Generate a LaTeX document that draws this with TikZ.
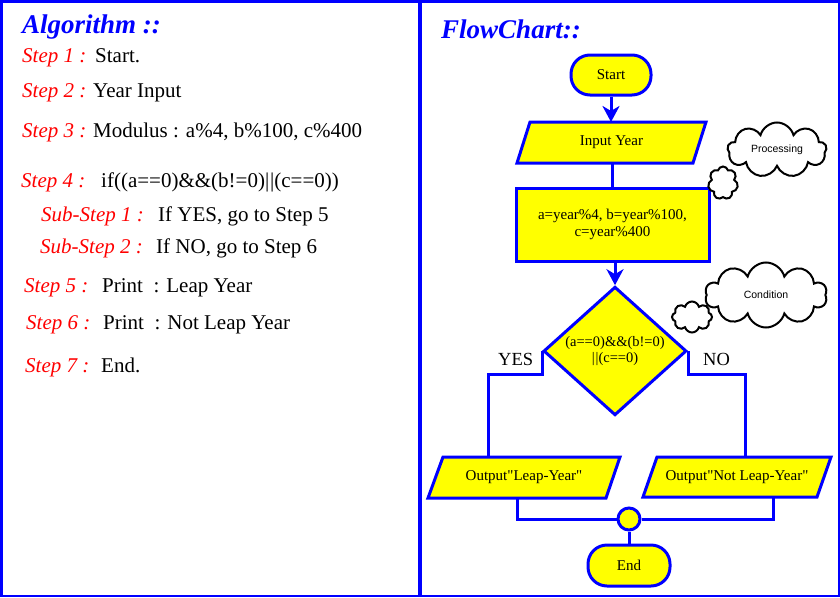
\documentclass[tikz,border=0pt]{standalone}
\usepackage{fontspec}
\setmainfont{Liberation Serif}[Ligatures=TeXOff]
\newfontfamily\cloudfont{Liberation Sans}
\usetikzlibrary{shapes.geometric,shapes.symbols,arrows.meta,calc}
\definecolor{fcblue}{RGB}{0,0,255}
\definecolor{fcyellow}{RGB}{255,255,0}
\tikzset{
 steplbl/.style={anchor=base west, text=red, font=\fontsize{21}{24}\selectfont\itshape, inner sep=0},
 steptxt/.style={anchor=base west, font=\fontsize{21}{24}\selectfont, inner sep=0},
 ttl/.style={anchor=base west, text=fcblue, font=\fontsize{27}{30}\selectfont\bfseries\itshape, inner sep=0},
 fcshape/.style={draw=fcblue, fill=fcyellow, line width=3pt, font=\fontsize{15}{17}\selectfont, align=center, inner sep=0},
 term/.style={fcshape, rectangle, rounded corners=19pt},
 ioshape/.style={draw=fcblue, fill=fcyellow, line width=3pt, line join=miter},
 iotext/.style={rectangle, font=\fontsize{15}{17}\selectfont, align=center, inner sep=0, outer sep=0},
 procbox/.style={fcshape, rectangle},
 decision/.style={fcshape, diamond, font=\fontsize{14.5}{16}\selectfont},
 conn/.style={draw=fcblue, line width=3pt},
 arr/.style={conn, -{Stealth[length=16pt,width=17pt,inset=5pt]}},
 thought/.style={cloud, cloud ignores aspect, draw=black, fill=white, line width=2pt, inner sep=0, font=\cloudfont\fontsize{10.5}{12}\selectfont},
 branch/.style={font=\fontsize{18.5}{20}\selectfont, inner sep=0, anchor=base west},
 frame/.style={draw=fcblue, line width=2.5pt},
}
\begin{document}
\begin{tikzpicture}[x=1pt,y=-1pt]
\useasboundingbox (0,0) rectangle (840,597);
\draw[frame] (1.25,1.25) rectangle (419,595.75);
\draw[frame] (420.5,1.25) rectangle (838.75,595.75);

% ---------- Algorithm ----------
\node[ttl] (alg) at (22,33) {Algorithm ::};
\node[steplbl] (s1) at (22,62) {Step 1 :};
\node[steptxt] (t1) at (95,62) {Start.};
\node[steplbl] (s2) at (22,97) {Step 2 :};
\node[steptxt] (t2) at (93,97) {Year Input};
\node[steplbl] (s3) at (22,137) {Step 3 :};
\node[steptxt] (t3) at (93,137) {Modulus : a\%4, b\%100, c\%400};
\node[steplbl] (s4) at (21,187) {Step 4 :};
\node[steptxt] (t4) at (101,187) {if((a==0)\&\&(b!=0)|\kern1pt|(c==0))};
\node[steplbl] (ss1) at (41,221) {Sub-Step 1 :};
\node[steptxt] (tt1) at (158,221) {If YES, go to Step 5};
\node[steplbl] (ss2) at (40,253) {Sub-Step 2 :};
\node[steptxt] (tt2) at (156,253) {If NO, go to Step 6};
\node[steplbl] (s5) at (24,292) {Step 5 :};
\node[steptxt] (t5) at (102,292) {Print\ \ : Leap Year};
\node[steplbl] (s6) at (26,329) {Step 6 :};
\node[steptxt] (t6) at (103,329) {Print\ \ : Not Leap Year};
\node[steplbl] (s7) at (25,372) {Step 7 :};
\node[steptxt] (t7) at (101,372) {End.};

% ---------- Flowchart ----------
\node[ttl] (fct) at (441,38) {FlowChart::};
\node[term, minimum width=80pt, minimum height=40pt] (st) at (611,75) {Start};

\path[ioshape] (517,163) -- (530,122) -- (706,122) -- (693,163) -- cycle;
\node[iotext, minimum width=189pt, minimum height=41pt] (inp) at (611.5,142.5) {Input Year};

\node[procbox, minimum width=193pt, minimum height=73pt] (proc) at (612.5,224.5) {a=year\%4, b=year\%100,\\c=year\%400};
\node[decision, minimum width=143pt, minimum height=124pt] (dec) at (615,351) {(a==0)\&\&(b!=0)\\|\kern1pt|(c==0)};

\path[ioshape] (428,498) -- (443,457) -- (620,457) -- (606,498) -- cycle;
\node[iotext, minimum width=192pt, minimum height=41pt] (o1) at (524,477.5) {Output"Leap-Year"};
\path[ioshape] (643,497) -- (657,457) -- (831,457) -- (817,497) -- cycle;
\node[iotext, minimum width=188pt, minimum height=40pt] (o2) at (737,477) {Output"Not Leap-Year"};

\node[circle, draw=fcblue, fill=fcyellow, line width=3pt, minimum size=22pt, inner sep=0] (jn) at (629,519) {};
\node[term, minimum width=82pt, minimum height=41pt] (fin) at (629,565.5) {End};

\draw[arr] (st.south) -- (st.south |- inp.north);
\draw[conn] (proc.north |- inp.south) -- (proc.north);
\draw[arr] (dec.north |- proc.south) -- (dec.north);
\draw[conn] (dec.west) -- ++(0,23) -| ($(o1.north)+(-36,0)$);
\draw[conn] (dec.east) -- ++(0,23) -| ($(o2.north)+(8,0)$);
\draw[conn] ($(o1.south)+(-7,0)$) |- (jn.west);
\draw[conn] ($(o2.south)+(36,0)$) |- (jn.east);
\draw[conn] (jn.south) -- (fin.north);

\node[branch] (yes) at (498,365) {YES};
\node[branch] (no) at (703,365) {NO};

% ---------- Clouds ----------
\node[thought, cloud puffs=9, minimum width=99pt, minimum height=55pt] (c1) at (777,150) {Processing};
\node[thought, cloud puffs=7, minimum width=30pt, minimum height=33pt] (c2) at (723,183) {};
\node[thought, cloud puffs=10, minimum width=122pt, minimum height=65pt] (c3) at (766,295) {Condition};
\node[thought, cloud puffs=8, minimum width=40pt, minimum height=31pt] (c4) at (692,317) {};
\end{tikzpicture}
\end{document}
